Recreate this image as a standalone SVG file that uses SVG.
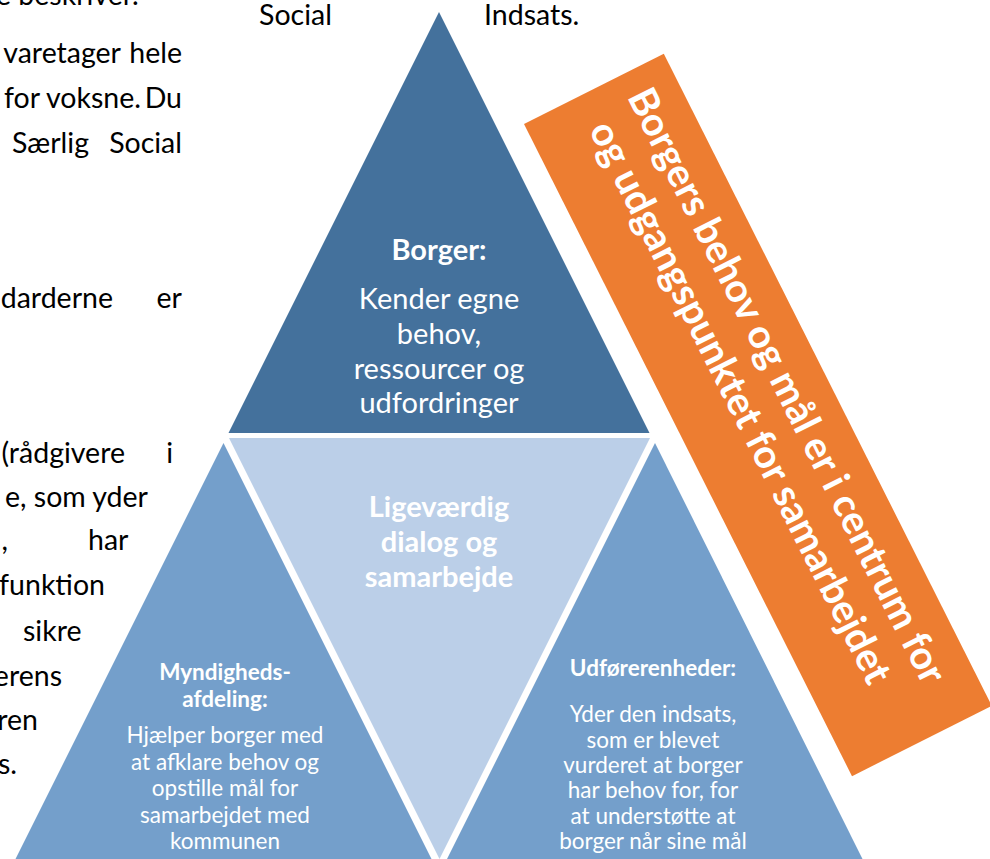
<svg xmlns="http://www.w3.org/2000/svg" width="990" height="859" viewBox="0 0 990 859">
<style>
.body{font-family:Lato,"Noto Sans",sans-serif;font-size:28.5px;fill:#000}
.w{fill:#fff;font-family:Lato,"Noto Sans",sans-serif;text-anchor:middle}
.b{font-weight:bold}
.big{font-size:29px}
.sm{font-size:22.5px}
.ban{font-family:Lato,"Noto Sans",sans-serif;font-weight:bold;font-size:39.5px;fill:#fff;text-anchor:middle}
</style>
<rect width="990" height="859" fill="#fff"/>
<g id="background-text" class="body">
<text x="-4" y="5">e beskriver.</text>
<text x="259" y="25">Social</text>
<text x="484" y="25">Indsats.</text>
<text x="121" y="63" text-anchor="end">varetager</text>
<text x="182" y="63" text-anchor="end">hele</text>
<text x="141" y="108" text-anchor="end">for voksne.</text>
<text x="182" y="108" text-anchor="end">Du</text>
<text x="89" y="153" text-anchor="end">Særlig</text>
<text x="182" y="153" text-anchor="end">Social</text>
<text x="113" y="308" text-anchor="end">darderne</text>
<text x="182" y="308" text-anchor="end">er</text>
<text x="125" y="463" text-anchor="end">(rådgivere</text>
<text x="173" y="463" text-anchor="end">i</text>
<text x="148" y="507" text-anchor="end">e, som yder</text>
<text x="8" y="550" text-anchor="end">,</text>
<text x="88" y="550">har</text>
<text x="105" y="595" text-anchor="end">funktion</text>
<text x="23" y="641">sikre</text>
<text x="62" y="686" text-anchor="end">erens</text>
<text x="38" y="730" text-anchor="end">ren</text>
<text x="17" y="774" text-anchor="end">s.</text>
</g>
<g id="connectors"/>
<g id="node-borger">
<polygon points="439,12 649.5,433 228.5,433" fill="#44719C"/>
<text class="w b big" x="439" y="260">Borger:</text>
<text class="w big" x="439" y="309">Kender egne</text>
<text class="w big" x="439" y="344">behov,</text>
<text class="w big" x="439" y="379">ressourcer og</text>
<text class="w big" x="439" y="413">udfordringer</text>
</g>
<g id="node-dialog">
<polygon points="229,438 650,438 439.5,859" fill="#BBCFE8"/>
<text class="w b big" x="439" y="517">Ligeværdig</text>
<text class="w b big" x="439" y="552">dialog og</text>
<text class="w b big" x="439" y="587">samarbejde</text>
</g>
<g id="node-myndighed">
<polygon points="223.5,443 437,870 10,870" fill="#749FCB"/>
<text class="w b sm" x="225" y="680">Myndigheds-</text>
<text class="w b sm" x="225" y="707">afdeling:</text>
<text class="w sm" x="225" y="743">Hjælper borger med</text>
<text class="w sm" x="225" y="769.5">at afklare behov og</text>
<text class="w sm" x="225" y="796">opstille mål for</text>
<text class="w sm" x="225" y="822.5">samarbejdet med</text>
<text class="w sm" x="225" y="849">kommunen</text>
</g>
<g id="node-udfoerer">
<polygon points="655,443 868,870 441.5,870" fill="#749FCB"/>
<text class="w b sm" x="653" y="676">Udførerenheder:</text>
<text class="w sm" x="653" y="722">Yder den indsats,</text>
<text class="w sm" x="653" y="747.5">som er blevet</text>
<text class="w sm" x="653" y="773">vurderet at borger</text>
<text class="w sm" x="653" y="798">har behov for, for</text>
<text class="w sm" x="653" y="823.5">at understøtte at</text>
<text class="w sm" x="653" y="849">borger når sine mål</text>
</g>
<g id="node-banner" transform="translate(524,124) rotate(63.3)">
<rect x="0" y="-156.5" width="730" height="156.5" fill="#ED7D31"/>
<text class="ban" x="352" y="-104">Borgers behov og mål er i centrum for</text>
<text class="ban" x="346" y="-55">og udgangspunktet for samarbejdet</text>
</g>
</svg>
